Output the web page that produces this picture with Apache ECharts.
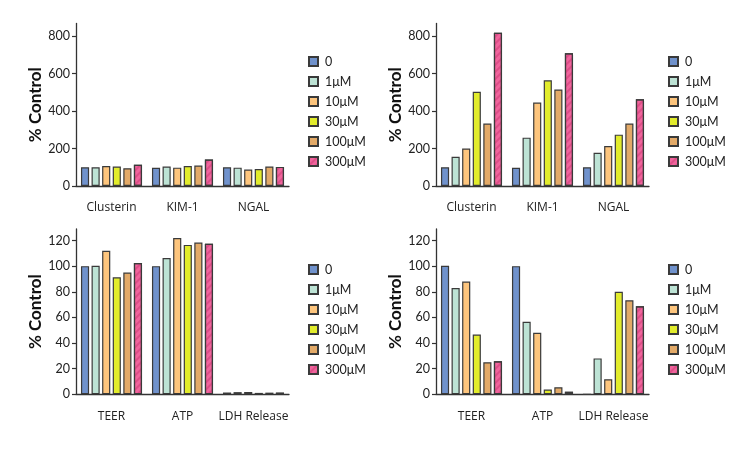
<!DOCTYPE html>
<html><head><meta charset="utf-8">
<script src="https://cdn.jsdelivr.net/npm/echarts@6/dist/echarts.min.js"></script>
<style>html,body{margin:0;padding:0;background:#fff}#c{width:750px;height:450px}</style>
</head><body><div id="c"></div>
<script>
var seriesNames = ['0', '1μM', '10μM', '30μM', '100μM', '300μM'];
var colors = ['#7092cc', '#bde3d5', '#fdc57d', '#e2ec2c', '#e3aa68', '#f0649c'];
var catsTop = ['Clusterin', 'KIM-1', 'NGAL'];
var catsBottom = ['TEER', 'ATP', 'LDH Release'];
var ticksTop = [0, 200, 400, 600, 800];
var ticksBottom = [0, 20, 40, 60, 80, 100, 120];

// values per series: [cat1, cat2, cat3]
var p1 = [
  [100, 97, 100],
  [100, 104, 98],
  [107, 98, 88],
  [104, 107, 91],
  [95, 109, 104],
  [113, 141, 102]
];
var p2 = [
  [100, 97, 100],
  [156, 258, 177],
  [200, 445, 213],
  [503, 564, 274],
  [333, 515, 333],
  [818, 708, 463]
];
var p3 = [
  [100, 100, 1.4],
  [100.3, 106.3, 1.7],
  [112, 122, 1.8],
  [91.3, 116.6, 1.1],
  [95, 118.4, 1.3],
  [102.4, 117.4, 1.3]
];
var p4 = [
  [100.3, 100, 0],
  [83, 56.6, 28],
  [88, 48, 11.8],
  [46.6, 3.7, 80],
  [25, 5.5, 73.4],
  [25.8, 2, 68.7]
];

var panels = [
  {data: p1, cats: catsTop, ticks: ticksTop, max: 867, left: 76, top: 23.5, height: 162.5, legendLeft: 303, legendTop: 50},
  {data: p2, cats: catsTop, ticks: ticksTop, max: 867, left: 436, top: 23.5, height: 162.5, legendLeft: 663, legendTop: 50},
  {data: p3, cats: catsBottom, ticks: ticksBottom, max: 129, left: 76, top: 229, height: 165.3, legendLeft: 303, legendTop: 258},
  {data: p4, cats: catsBottom, ticks: ticksBottom, max: 129, left: 436, top: 229, height: 165.3, legendLeft: 663, legendTop: 258}
];

var font = 'Lato, "Open Sans", sans-serif';
var grids = [], xAxes = [], yAxes = [], series = [], legends = [];
panels.forEach(function (p, i) {
  grids.push({left: p.left, top: p.top, width: 213, height: p.height, containLabel: false});
  xAxes.push({
    type: 'category', gridIndex: i, data: p.cats,
    axisLine: {lineStyle: {color: '#333', width: 1.3}},
    axisTick: {show: false},
    axisLabel: {color: '#222', fontSize: 12, margin: 16, interval: 0, fontFamily: '"Open Sans", sans-serif'}
  });
  yAxes.push({
    type: 'value', gridIndex: i, min: 0, max: p.max,
    name: '% Control', nameLocation: 'middle', nameGap: 25, nameRotate: 90,
    nameTextStyle: {color: '#111', fontSize: 17, fontWeight: 'bold', fontFamily: font},
    axisLine: {show: true, lineStyle: {color: '#333', width: 1.3}},
    axisTick: {show: true, length: 4, customValues: p.ticks, lineStyle: {color: '#333', width: 1.2}},
    axisLabel: {color: '#222', fontSize: 12.5, margin: 6, customValues: p.ticks, fontFamily: font},
    splitLine: {show: false}
  });
  p.data.forEach(function (vals, k) {
    var itemStyle = {color: colors[k], borderColor: '#3a3a3a', borderWidth: 1.2};
    if (k === 5) {
      itemStyle.decal = {symbol: 'rect', symbolSize: 1, color: 'rgba(200,50,110,0.45)', dashArrayX: [1, 0], dashArrayY: [2, 3], rotation: -Math.PI / 4};
    }
    series.push({
      type: 'bar', name: seriesNames[k], xAxisIndex: i, yAxisIndex: i,
      data: vals, barCategoryGap: '14%', barGap: '30%',
      itemStyle: itemStyle, animation: false
    });
  });
  legends.push({
    orient: 'vertical', left: p.legendLeft, top: p.legendTop, icon: 'rect',
    itemWidth: 9, itemHeight: 9, itemGap: 7,
    data: seriesNames.slice(),
    textStyle: {color: '#222', fontSize: 12.5, lineHeight: 12, fontFamily: font, padding: [0, 0, 0, 2]},
    selectedMode: false
  });
});

var chart = echarts.init(document.getElementById('c'), null, {renderer: 'canvas'});
chart.setOption({
  backgroundColor: '#fff',
  animation: false,
  grid: grids, xAxis: xAxes, yAxis: yAxes, series: series, legend: legends
});
</script>
</body></html>
